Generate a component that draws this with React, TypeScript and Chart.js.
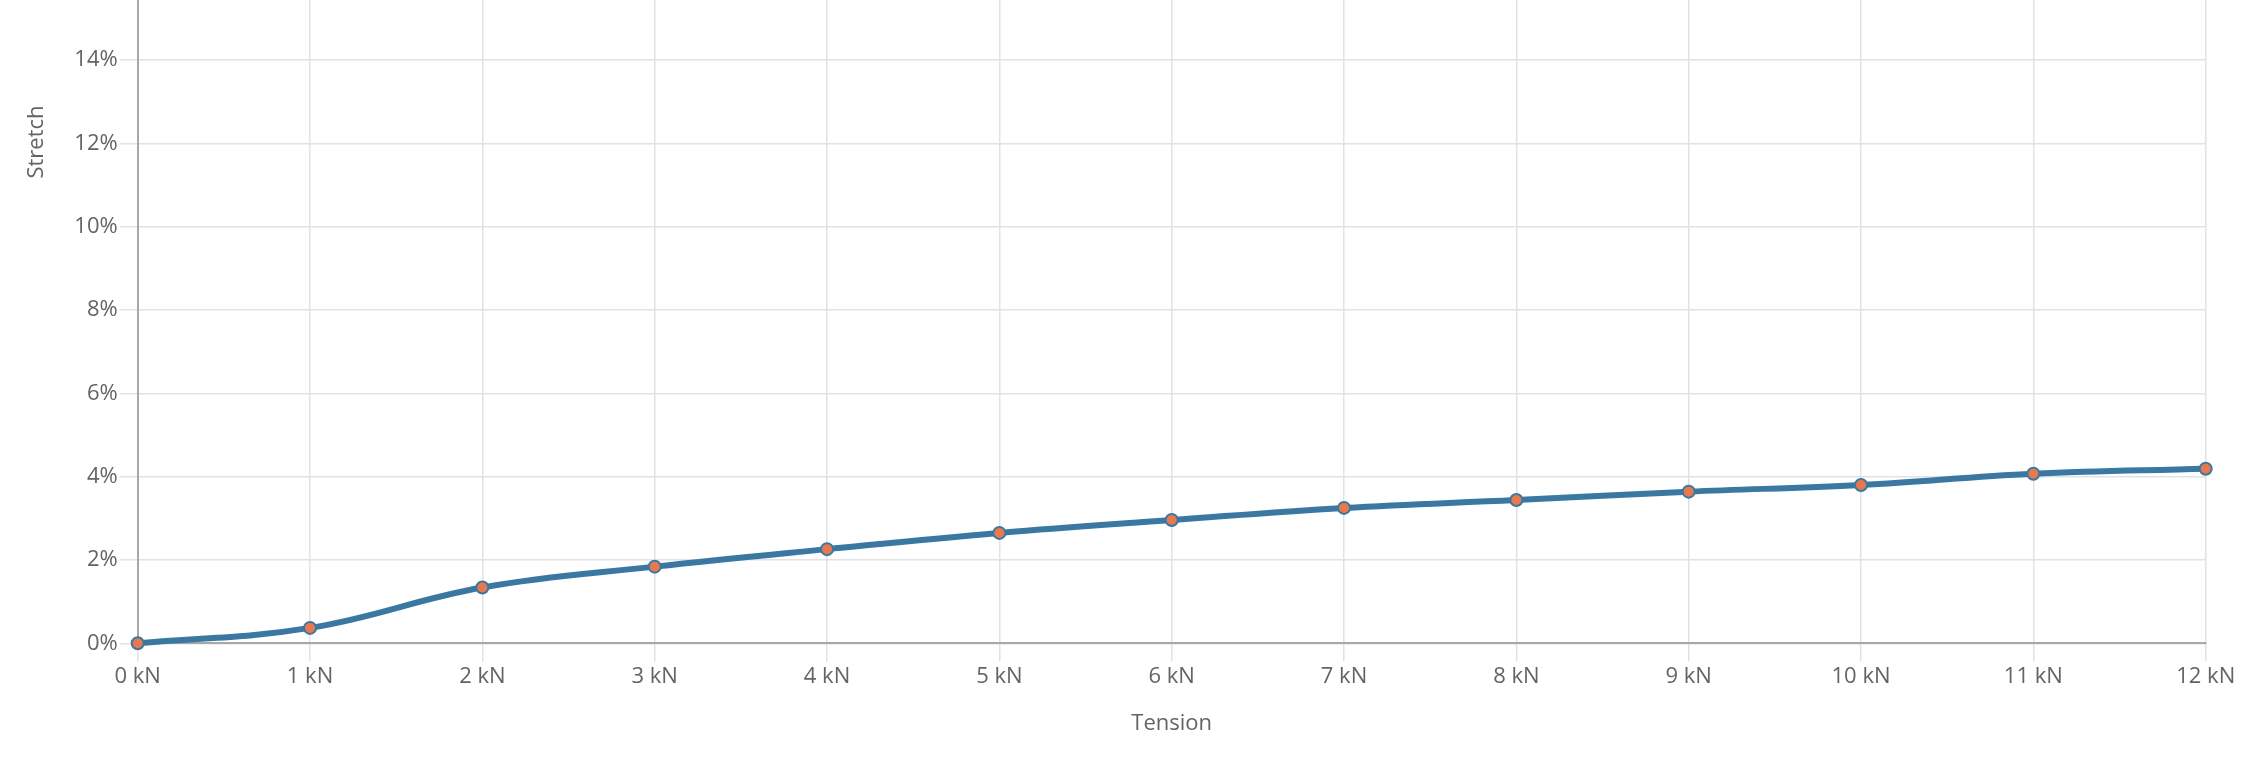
import React, { useEffect, useRef } from "react";
import { Chart, registerables } from "chart.js";

Chart.register(...registerables);

const tensionKN: number[] = [0, 1, 2, 3, 4, 5, 6, 7, 8, 9, 10, 11, 12];
const stretchPct: number[] = [0, 0.37, 1.34, 1.84, 2.26, 2.65, 2.96, 3.25, 3.44, 3.64, 3.8, 4.07, 4.19];
const xTitle = "Tension";
const yTitle = "Stretch";
const yTickValues: number[] = [0, 2, 4, 6, 8, 10, 12, 14];

const FONT = "'Open Sans', 'Noto Sans', sans-serif";
const TEXT = "#646464";

const titlesPlugin = {
  id: "axisTitles",
  afterDraw(chart: any) {
    const ctx = chart.ctx;
    const area = chart.chartArea;
    ctx.save();
    ctx.fillStyle = TEXT;
    ctx.font = `22px ${FONT}`;
    ctx.textAlign = "center";
    ctx.textBaseline = "middle";
    ctx.fillText(xTitle, (area.left + area.right) / 2, 724);
    ctx.translate(37, 142);
    ctx.rotate(-Math.PI / 2);
    ctx.fillText(yTitle, 0, 0);
    ctx.restore();
  },
};

export default function App() {
  const ref = useRef<HTMLCanvasElement | null>(null);
  useEffect(() => {
    if (!ref.current) return;
    const chart = new Chart(ref.current, {
      type: "line",
      data: {
        datasets: [
          {
            label: yTitle,
            data: tensionKN.map((x, i) => ({ x, y: stretchPct[i] })),
            borderColor: "#3a77a1",
            borderWidth: 6,
            backgroundColor: "#e8794f",
            pointBackgroundColor: "#e8794f",
            pointBorderColor: "#3a77a1",
            pointBorderWidth: 2,
            pointRadius: 6,
            tension: 0.4,
            clip: false as any,
          },
        ],
      },
      options: {
        responsive: false,
        animation: false,
        layout: { autoPadding: false, padding: { left: 0, right: 58.3, top: 0, bottom: 0 } },
        plugins: { legend: { display: false }, tooltip: { enabled: false } },
        scales: {
          x: {
            type: "linear",
            min: 0,
            max: 12,
            afterFit: (s: any) => {
              s.height = 776 - 643.3;
              s.paddingLeft = 0;
              s.paddingRight = 0;
            },
            ticks: {
              stepSize: 1,
              padding: 2,
              color: TEXT,
              font: { family: FONT, size: 22 },
              maxRotation: 0,
              callback: (v: any) => `${v} kN`,
            },
            grid: { color: "#e2e2e2", lineWidth: 1.5, tickLength: 18, tickColor: "#e2e2e2" },
            border: { color: "#a8a8a8", width: 2 },
          },
          y: {
            type: "linear",
            min: 0,
            max: 15.44,
            afterFit: (s: any) => {
              s.width = 137.7;
              s.paddingTop = 0;
              s.paddingBottom = 0;
            },
            afterBuildTicks: (s: any) => {
              s.ticks = yTickValues.map((v) => ({ value: v }));
            },
            ticks: {
              padding: 2,
              color: TEXT,
              font: { family: FONT, size: 22 },
              callback: (v: any) => `${v}%`,
            },
            grid: { color: "#e2e2e2", lineWidth: 1.5, tickLength: 18, tickColor: "#e2e2e2" },
            border: { color: "#a8a8a8", width: 2 },
          },
        },
      },
      plugins: [titlesPlugin],
    } as any);
    return () => chart.destroy();
  }, []);
  return (
    <div style={{ position: "fixed", left: 0, top: 0, width: 2264, height: 776, background: "#fff" }}>
      <canvas ref={ref} width={2264} height={776} style={{ display: "block" }} />
    </div>
  );
}
